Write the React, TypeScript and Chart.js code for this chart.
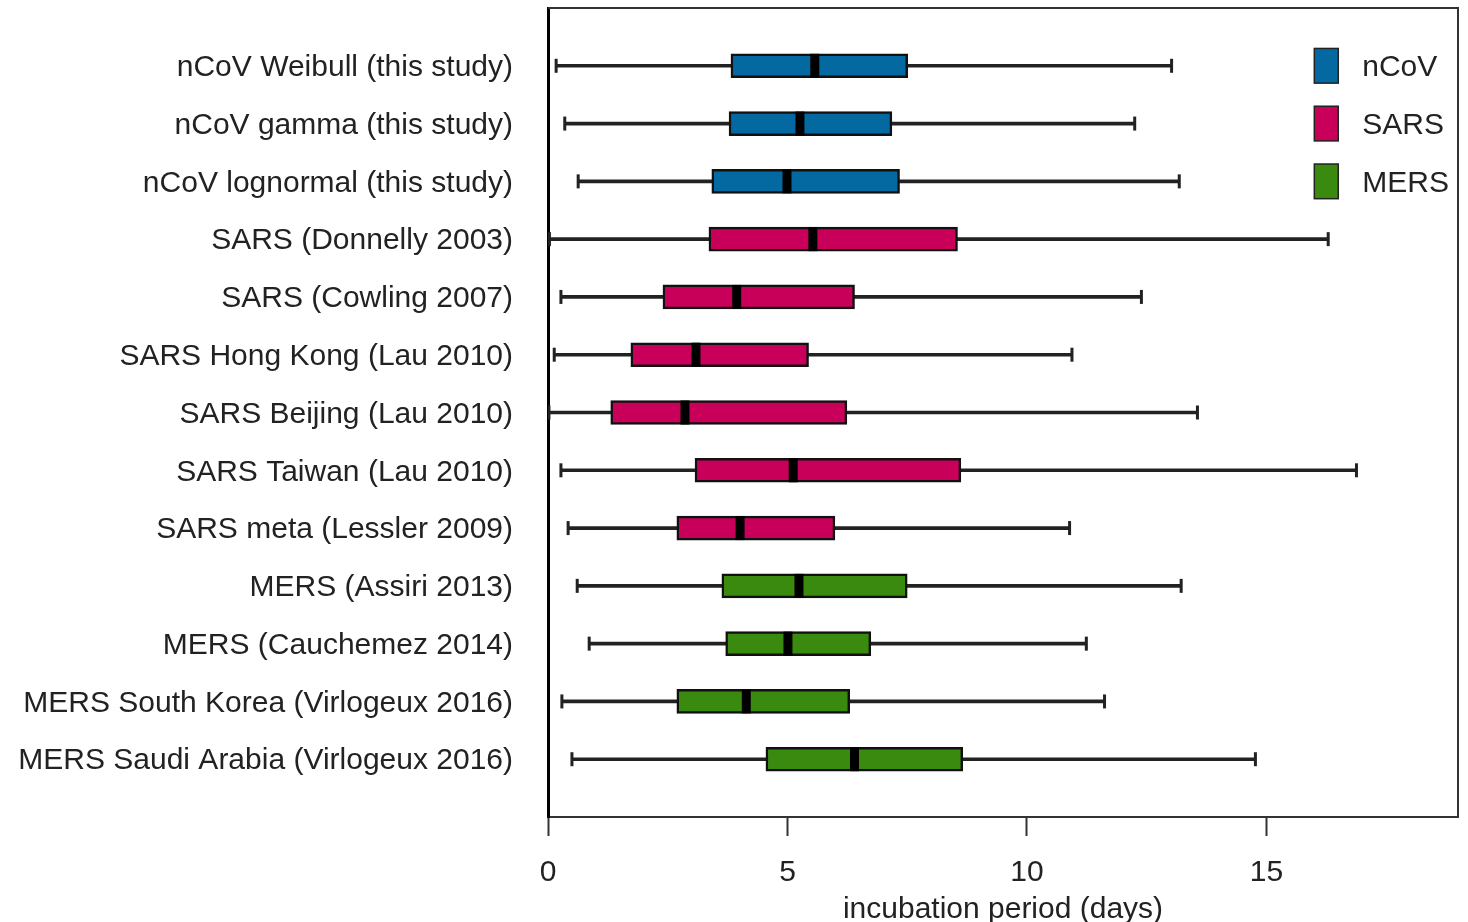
import React, { useEffect, useRef } from 'react';
import { Chart, registerables } from 'chart.js';

Chart.register(...registerables);

const studies = [
  'nCoV Weibull (this study)',
  'nCoV gamma (this study)',
  'nCoV lognormal (this study)',
  'SARS (Donnelly 2003)',
  'SARS (Cowling 2007)',
  'SARS Hong Kong (Lau 2010)',
  'SARS Beijing (Lau 2010)',
  'SARS Taiwan (Lau 2010)',
  'SARS meta (Lessler 2009)',
  'MERS (Assiri 2013)',
  'MERS (Cauchemez 2014)',
  'MERS South Korea (Virlogeux 2016)',
  'MERS Saudi Arabia (Virlogeux 2016)',
];

const whiskerLow = [0.17, 0.35, 0.63, 0.03, 0.27, 0.13, 0.02, 0.27, 0.42, 0.61, 0.86, 0.29, 0.5];
const boxLow = [3.82, 3.78, 3.42, 3.36, 2.4, 1.73, 1.31, 3.07, 2.69, 3.63, 3.71, 2.69, 4.55];
const medians = [5.57, 5.26, 4.99, 5.53, 3.94, 3.09, 2.86, 5.12, 4.01, 5.24, 5.01, 4.14, 6.4];
const boxHigh = [7.51, 7.18, 7.34, 8.55, 6.4, 5.44, 6.24, 8.62, 5.99, 7.5, 6.74, 6.3, 8.66];
const whiskerHigh = [13.02, 12.25, 13.18, 16.29, 12.39, 10.94, 13.56, 16.88, 10.89, 13.22, 11.24, 11.62, 14.77];

const studyGroup = [0, 0, 0, 1, 1, 1, 1, 1, 1, 2, 2, 2, 2];
const groupNames = ['nCoV', 'SARS', 'MERS'];
const groupColors = ['#0569A1', '#C9005A', '#3A8A10'];

const xTicks = [0, 5, 10, 15];
const xTitle = 'incubation period (days)';

const FONT = '"Liberation Sans", Arial, Helvetica, sans-serif';
const TEXT = '#222';
const FSIZE = 30;

const rows = studies.map((_, i) => i + 1);

const frameLegendPlugin = {
  id: 'frameLegend',
  afterDraw(chart: any) {
    const { ctx, chartArea: a, scales } = chart;
    const x = scales.x;
    const y = scales.y;
    ctx.save();
    ctx.strokeStyle = '#333';
    ctx.lineWidth = 2;
    ctx.beginPath();
    ctx.moveTo(a.left, a.top);
    ctx.lineTo(a.right, a.top);
    ctx.lineTo(a.right, a.bottom);
    ctx.stroke();

    groupNames.forEach((name, i) => {
      const yc = y.getPixelForValue(i + 1);
      const y0 = y.getPixelForValue(i + 1 - 0.3);
      const y1 = y.getPixelForValue(i + 1 + 0.3);
      const x0 = x.getPixelForValue(16);
      const x1 = x.getPixelForValue(16.5);
      ctx.fillStyle = groupColors[i];
      ctx.fillRect(x0, y0, x1 - x0, y1 - y0);
      ctx.strokeStyle = '#222';
      ctx.lineWidth = 1.5;
      ctx.strokeRect(x0, y0, x1 - x0, y1 - y0);
      ctx.fillStyle = TEXT;
      ctx.font = `${FSIZE}px ${FONT}`;
      ctx.textAlign = 'left';
      ctx.textBaseline = 'middle';
      ctx.fillText(name, x.getPixelForValue(17), yc + 2);
    });
    ctx.restore();
  },
};

export default function App() {
  const ref = useRef<HTMLCanvasElement>(null);

  useEffect(() => {
    if (!ref.current) return;
    const chart = new Chart(ref.current, {
      type: 'bar',
      data: {
        datasets: [
          {
            type: 'bar',
            indexAxis: 'y',
            label: 'whiskers',
            data: rows.map((r, i) => ({ x: [whiskerLow[i], whiskerHigh[i]], y: r })),
            backgroundColor: '#222',
            borderWidth: 0,
            barThickness: 3,
            grouped: false,
            order: 4,
          } as any,
          {
            type: 'scatter',
            label: 'caps',
            data: rows.flatMap((r, i) => [
              { x: whiskerLow[i], y: r },
              { x: whiskerHigh[i], y: r },
            ]),
            pointStyle: 'line',
            pointRotation: 90,
            pointRadius: 7,
            pointBorderWidth: 3,
            pointBorderColor: '#222',
            pointBackgroundColor: '#222',
            showLine: false,
            order: 3,
          } as any,
          {
            type: 'bar',
            indexAxis: 'y',
            label: 'boxes',
            data: rows.map((r, i) => ({ x: [boxLow[i], boxHigh[i]], y: r })),
            backgroundColor: studyGroup.map((g) => groupColors[g]),
            borderColor: '#111',
            borderWidth: 2.5,
            borderSkipped: false,
            barThickness: 24,
            grouped: false,
            order: 2,
          } as any,
          {
            type: 'scatter',
            label: 'medians',
            data: rows.map((r, i) => ({ x: medians[i], y: r })),
            pointStyle: 'line',
            pointRotation: 90,
            pointRadius: 12,
            pointBorderWidth: 9,
            pointBorderColor: '#000',
            pointBackgroundColor: '#000',
            showLine: false,
            order: 1,
          } as any,
        ],
      },
      options: {
        indexAxis: 'y',
        animation: false,
        responsive: false,
        devicePixelRatio: 1,
        events: [],
        layout: { autoPadding: false, padding: { top: 8, right: 10, bottom: 0, left: 0 } },
        plugins: {
          legend: { display: false },
          tooltip: { enabled: false },
        },
        scales: {
          x: {
            type: 'linear',
            position: 'bottom',
            min: 0,
            max: 19,
            offset: false,
            afterBuildTicks: (s: any) => {
              s.ticks = xTicks.map((v) => ({ value: v }));
            },
            afterFit: (s: any) => {
              s.height = 105;
              s.paddingLeft = 0;
              s.paddingRight = 0;
            },
            ticks: {
              color: TEXT,
              font: { family: FONT, size: FSIZE },
              padding: 19,
              autoSkip: false,
              maxRotation: 0,
            },
            grid: {
              display: true,
              offset: false,
              drawOnChartArea: false,
              drawTicks: true,
              tickLength: 19,
              tickWidth: 2,
              tickColor: '#333',
            },
            border: { display: true, color: '#333', width: 2 },
            title: {
              display: true,
              text: xTitle,
              color: TEXT,
              font: { family: FONT, size: FSIZE, lineHeight: 1 },
              padding: { top: 0, bottom: -3 },
            },
          } as any,
          y: {
            type: 'linear',
            position: 'left',
            min: 0,
            max: 14,
            reverse: true,
            offset: false,
            afterBuildTicks: (s: any) => {
              s.ticks = rows.map((v) => ({ value: v }));
            },
            afterFit: (s: any) => {
              s.width = 548;
              s.paddingTop = 0;
              s.paddingBottom = 0;
            },
            ticks: {
              callback: (v: any) => studies[Number(v) - 1] ?? '',
              color: TEXT,
              font: { family: FONT, size: FSIZE },
              padding: 35,
              labelOffset: 2,
              autoSkip: false,
            },
            grid: {
              display: true,
              offset: false,
              drawOnChartArea: false,
              drawTicks: false,
            },
            border: { display: true, color: '#000', width: 3 },
          } as any,
        },
      },
      plugins: [frameLegendPlugin],
    } as any);
    return () => chart.destroy();
  }, []);

  return (
    <div style={{ position: 'absolute', left: 0, top: 0, width: 1468, height: 922, background: '#fff' }}>
      <canvas ref={ref} width={1468} height={922} style={{ display: 'block' }} />
    </div>
  );
}
